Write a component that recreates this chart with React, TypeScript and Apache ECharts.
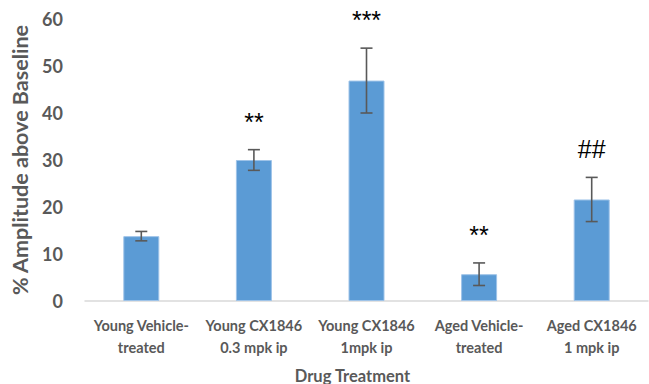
import React, { useEffect, useRef } from "react";
import * as echarts from "echarts";

const categories = [
  "Young Vehicle-\ntreated",
  "Young CX1846\n0.3 mpk ip",
  "Young CX1846\n1mpk ip",
  "Aged Vehicle-\ntreated",
  "Aged CX1846\n1 mpk ip",
];
const means = [13.8, 30.0, 46.9, 5.7, 21.6];
const errors = [1.0, 2.2, 6.9, 2.4, 4.7];
const annotations = ["", "**", "***", "**", "##"];

const FONT = "Lato, 'Open Sans', sans-serif";
const GRAY = "#595959";

export default function App() {
  const ref = useRef<HTMLDivElement>(null);
  useEffect(() => {
    if (!ref.current) return;
    const chart = echarts.init(ref.current, null, { renderer: "svg" });
    const errData = means.map((m, i) => [i, m - errors[i], m + errors[i], annotations[i]]);
    chart.setOption({
      animation: false,
      grid: { left: 85, right: 1, top: 19, bottom: 83, outerBoundsMode: "none", containLabel: false },
      xAxis: {
        type: "category",
        data: categories,
        axisLine: { show: true, lineStyle: { color: "#d9d9d9", width: 1.5 } },
        axisTick: { show: false },
        axisLabel: {
          interval: 0,
          fontFamily: FONT,
          fontWeight: "bold",
          fontSize: 14.5,
          color: GRAY,
          lineHeight: 22,
          margin: 13,
        },
        name: "Drug Treatment",
        nameLocation: "middle",
        nameGap: 66,
        nameTextStyle: {
          fontFamily: FONT,
          fontWeight: "bold",
          fontSize: 16.5,
          color: GRAY,
          padding: [0, 28, 0, 0],
        },
      },
      yAxis: {
        type: "value",
        min: 0,
        max: 60,
        interval: 10,
        splitLine: { show: false },
        axisLine: { show: false },
        axisTick: { show: false },
        axisLabel: {
          fontFamily: FONT,
          fontWeight: "bold",
          fontSize: 18,
          color: GRAY,
          margin: 22,
        },
        name: "% Amplitude above Baseline",
        nameLocation: "middle",
        nameGap: 51,
        nameTextStyle: { fontFamily: FONT, fontWeight: "bold", fontSize: 21.5, color: GRAY },
      },
      series: [
        {
          type: "bar",
          data: means,
          barWidth: 36,
          itemStyle: { color: "#5b9bd5", borderColor: "#9ec3e8", borderWidth: 1 },
        },
        {
          type: "custom",
          data: errData,
          z: 10,
          renderItem: (params: any, api: any) => {
            const x = api.value(0);
            const lo = api.coord([x, api.value(1)]);
            const hi = api.coord([x, api.value(2)]);
            const idx = params.dataIndex;
            const cap = 6;
            const style = { stroke: GRAY, lineWidth: 1.6 };
            const children: any[] = [
              { type: "line", shape: { x1: lo[0], y1: lo[1], x2: hi[0], y2: hi[1] }, style },
              { type: "line", shape: { x1: lo[0] - cap, y1: lo[1], x2: lo[0] + cap, y2: lo[1] }, style },
              { type: "line", shape: { x1: hi[0] - cap, y1: hi[1], x2: hi[0] + cap, y2: hi[1] }, style },
            ];
            const txt = annotations[idx];
            if (txt) {
              children.push({
                type: "text",
                x: hi[0],
                y: hi[1] - 28,
                style: {
                  text: txt,
                  fill: "#000000",
                  font: "25px 'Liberation Sans', sans-serif",
                  align: "center",
                  verticalAlign: "middle",
                },
              });
            }
            return { type: "group", children };
          },
        },
      ],
    });
    return () => chart.dispose();
  }, []);
  return <div ref={ref} style={{ width: 649, height: 384, position: "absolute", left: 0, top: 0 }} />;
}
